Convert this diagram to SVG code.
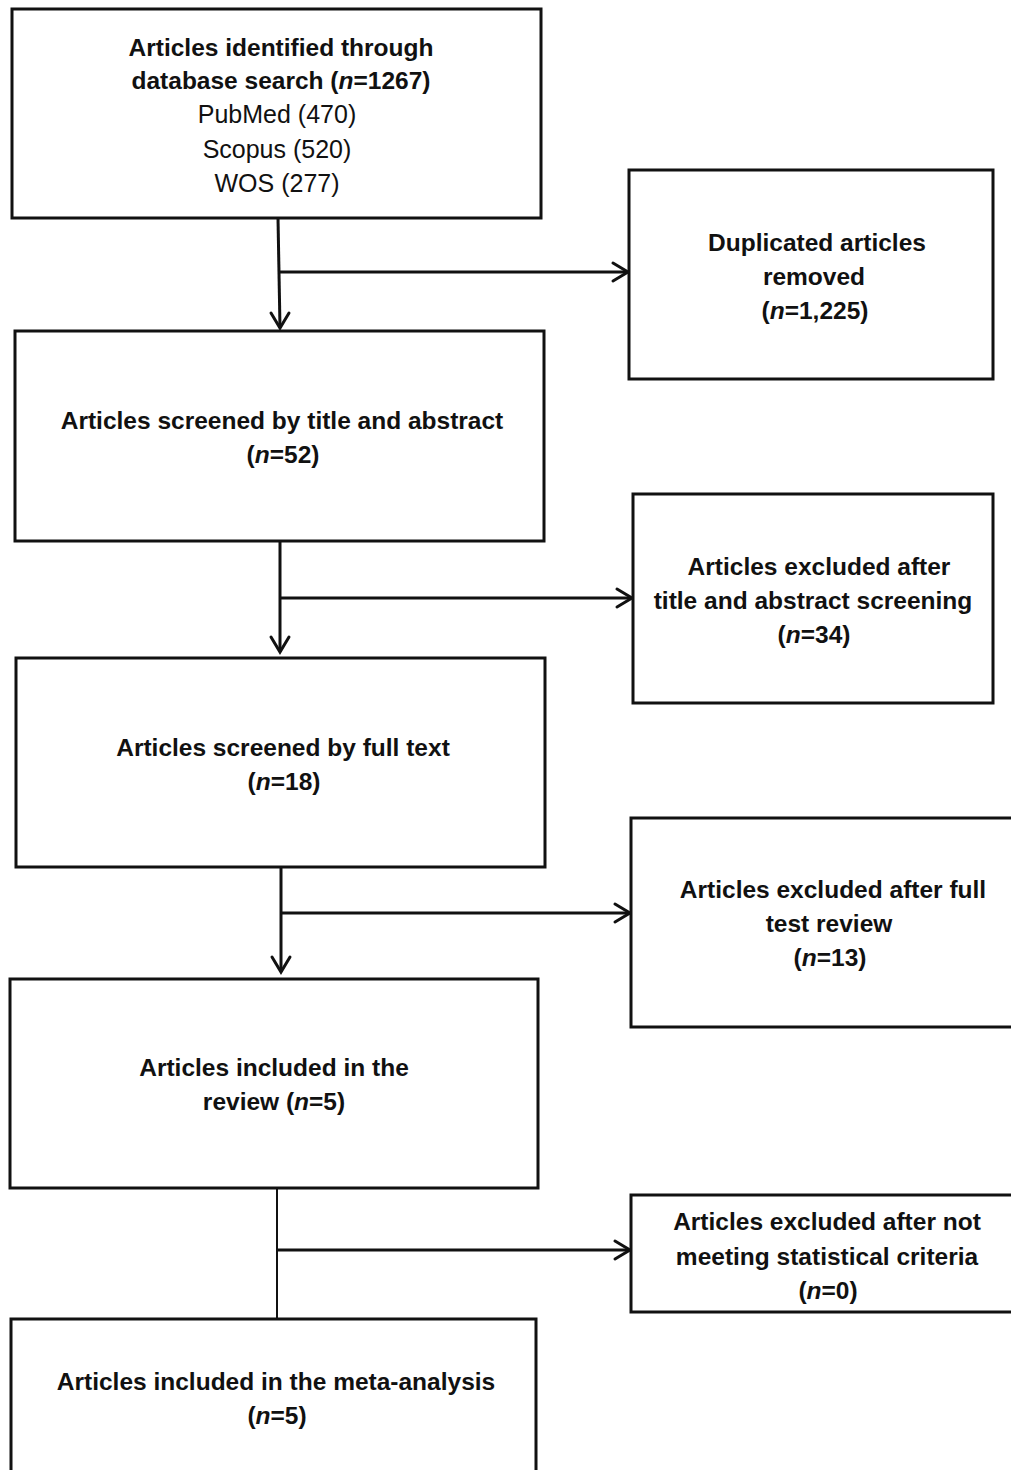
<svg xmlns="http://www.w3.org/2000/svg" width="1011" height="1470" viewBox="0 0 1011 1470">
<defs>
<style>
.box{fill:#fff;stroke:#111;stroke-width:3}
.c{fill:none;stroke:#111;stroke-width:3}
.thin{fill:none;stroke:#111;stroke-width:2}
.ah{fill:none;stroke:#111;stroke-width:3;stroke-linecap:round;stroke-linejoin:miter}
text{font-family:"Liberation Sans",Arial,sans-serif;font-size:24.5px;text-anchor:middle;fill:#111}
.b{font-weight:bold}
.r{font-weight:normal;font-size:25px}
</style>
</defs>
<rect width="1011" height="1470" fill="#fff"/>
<g id="connectors">
<line class="c" x1="278" y1="218" x2="280" y2="328"/>
<polyline class="ah" points="271,313 280,328 289,313"/>
<line class="c" x1="279" y1="272" x2="627" y2="272"/>
<polyline class="ah" points="613,263 628,272 613,281"/>
<line class="c" x1="280" y1="541" x2="280" y2="652"/>
<polyline class="ah" points="271,637 280,652 289,637"/>
<line class="c" x1="280" y1="598" x2="631" y2="598"/>
<polyline class="ah" points="617,589 632,598 617,607"/>
<line class="c" x1="281" y1="867" x2="281" y2="972"/>
<polyline class="ah" points="272,957 281,972 290,957"/>
<line class="c" x1="281" y1="913" x2="629" y2="913"/>
<polyline class="ah" points="615,904 630,913 615,922"/>
<line class="thin" x1="277" y1="1188" x2="277" y2="1319"/>
<line class="c" x1="277" y1="1250" x2="629" y2="1250"/>
<polyline class="ah" points="615,1241 630,1250 615,1259"/>
</g>
<g id="n1">
<rect class="box" x="12" y="9" width="529" height="209"/>
<text class="b" x="281" y="56">Articles identified through</text>
<text class="b" x="281" y="89">database search (<tspan font-style="italic">n</tspan>=1267)</text>
<text class="r" x="277" y="123">PubMed (470)</text>
<text class="r" x="277" y="158">Scopus (520)</text>
<text class="r" x="277" y="192">WOS (277)</text>
</g>
<g id="n2">
<rect class="box" x="629" y="170" width="364" height="209"/>
<text class="b" x="817" y="251">Duplicated articles</text>
<text class="b" x="814" y="285">removed</text>
<text class="b" x="815" y="319">(<tspan font-style="italic">n</tspan>=1,225)</text>
</g>
<g id="n3">
<rect class="box" x="15" y="331" width="529" height="210"/>
<text class="b" x="282" y="429">Articles screened by title and abstract</text>
<text class="b" x="283" y="463">(<tspan font-style="italic">n</tspan>=52)</text>
</g>
<g id="n4">
<rect class="box" x="633" y="494" width="360" height="209"/>
<text class="b" x="819" y="575">Articles excluded after</text>
<text class="b" x="813" y="609">title and abstract screening</text>
<text class="b" x="814" y="643">(<tspan font-style="italic">n</tspan>=34)</text>
</g>
<g id="n5">
<rect class="box" x="16" y="658" width="529" height="209"/>
<text class="b" x="283" y="756">Articles screened by full text</text>
<text class="b" x="284" y="790">(<tspan font-style="italic">n</tspan>=18)</text>
</g>
<g id="n6">
<rect class="box" x="631" y="818" width="390" height="209"/>
<text class="b" x="833" y="898">Articles excluded after full</text>
<text class="b" x="829" y="932">test review</text>
<text class="b" x="830" y="966">(<tspan font-style="italic">n</tspan>=13)</text>
</g>
<g id="n7">
<rect class="box" x="10" y="979" width="528" height="209"/>
<text class="b" x="274" y="1076">Articles included in the</text>
<text class="b" x="274" y="1110">review (<tspan font-style="italic">n</tspan>=5)</text>
</g>
<g id="n8">
<rect class="box" x="631" y="1195" width="390" height="117"/>
<text class="b" x="827" y="1230">Articles excluded after not</text>
<text class="b" x="827" y="1265">meeting statistical criteria</text>
<text class="b" x="828" y="1299">(<tspan font-style="italic">n</tspan>=0)</text>
</g>
<g id="n9">
<rect class="box" x="11" y="1319" width="525" height="170"/>
<text class="b" x="276" y="1390">Articles included in the meta-analysis</text>
<text class="b" x="277" y="1424">(<tspan font-style="italic">n</tspan>=5)</text>
</g>
</svg>
